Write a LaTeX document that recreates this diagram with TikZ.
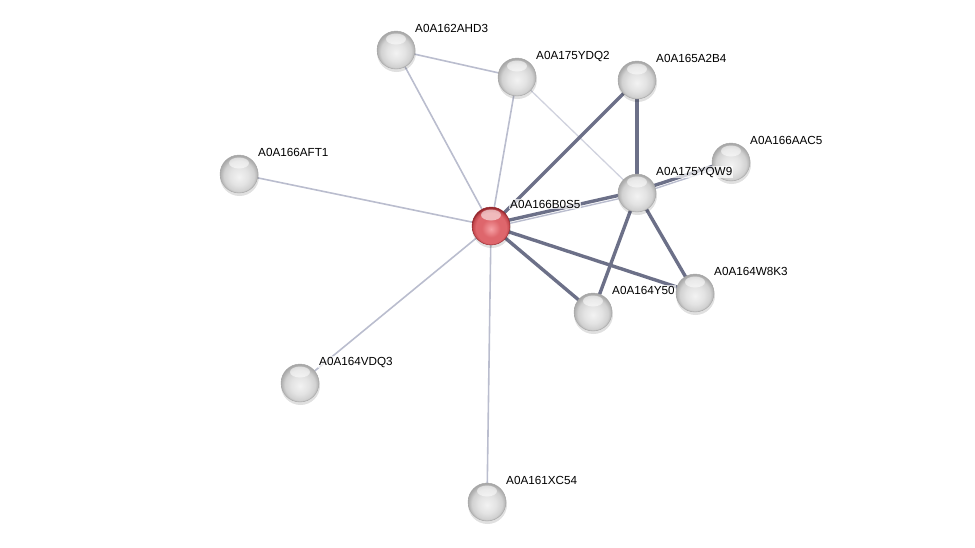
\documentclass[tikz,border=0pt]{standalone}
\usepackage{fontspec}
\setmainfont{Liberation Sans}
\usetikzlibrary{calc}
\pgfdeclareradialshading{greyball}{\pgfpoint{0bp}{-4bp}}{color(0bp)=(gray!10); color(12bp)=(gray!22); color(20bp)=(gray!36); color(24bp)=(gray!58); color(26bp)=(gray!68); color(50bp)=(gray!68)}
\definecolor{redA}{RGB}{246,160,164}
\definecolor{redB}{RGB}{222,102,108}
\definecolor{redC}{RGB}{196,72,78}
\definecolor{redD}{RGB}{150,40,46}
\pgfdeclareradialshading{redball}{\pgfpoint{0bp}{-4bp}}{color(0bp)=(redA); color(12bp)=(redB); color(20bp)=(redB); color(24bp)=(redC); color(26bp)=(redD); color(50bp)=(redD)}
\definecolor{thinedge}{RGB}{186,189,206}
\definecolor{paleedge}{RGB}{208,210,222}
\definecolor{darkedge}{RGB}{108,112,136}
\tikzset{
  ballbase/.style={circle, minimum size=38pt, inner sep=0pt,
    path picture={\fill[white,opacity=0.55] ([yshift=11pt]path picture bounding box.center) ellipse (10pt and 5.5pt);}},
  greynode/.style={ballbase, shading=greyball, draw=gray!70, line width=0.4pt},
  rednode/.style={ballbase, shading=redball, draw=redD, line width=0.4pt},
  shadowc/.style={fill=black, opacity=0.12},
  lbl/.style={anchor=base west, font=\fontsize{11.7}{13}\selectfont, fill=white, fill opacity=0.7, text opacity=1, inner sep=1pt},
  thin/.style={draw=thinedge, line width=1.6pt},
  pale/.style={draw=paleedge, line width=1.3pt},
  thick/.style={draw=darkedge, line width=3.4pt},
}
\newcommand{\ball}[5]{%
  \fill[shadowc] (#2+0.5,#3+2.5) circle (19.5pt);
  \node[#5] (#1) at (#2,#3) {};
  \node[lbl] (#1-l) at ($(#1)+(18,-18)$) {#4};
}
\begin{document}
\begin{tikzpicture}[x=1pt,y=-1pt]
\useasboundingbox (0,0) rectangle (975,547);
% coordinates of nodes
\coordinate (ahd3) at (396,50);
\coordinate (ydq2) at (517,77);
\coordinate (a2b4) at (637,80);
\coordinate (aac5) at (731,162);
\coordinate (yqw9) at (637,193);
\coordinate (aft1) at (239,174);
\coordinate (b0s5) at (491,226);
\coordinate (w8k3) at (695,293);
\coordinate (y50) at (593,312);
\coordinate (vdq3) at (300,383);
\coordinate (xc54) at (487,502);
% edges
\draw[thin] (ahd3) -- (ydq2);
\draw[thin] (ahd3) -- (b0s5);
\draw[thin] (ydq2) -- (b0s5);
\draw[pale] (ydq2) -- (yqw9);
\draw[thin] (aft1) -- (b0s5);
\draw[thin] (vdq3) -- (b0s5);
\draw[thin] (xc54) -- (b0s5);
\draw[thick] (b0s5) -- (a2b4);
\draw[thick] (a2b4) -- (yqw9);
\draw[thick, transform canvas={yshift=1.8pt}] (b0s5) -- (yqw9);
\draw[thin, line width=1.4pt, transform canvas={yshift=-1.6pt}] (b0s5) -- (yqw9);
\draw[thick, transform canvas={yshift=1.8pt}] (yqw9) -- (aac5);
\draw[thin, line width=1.4pt, transform canvas={yshift=-1.6pt}] (yqw9) -- (aac5);
\draw[thick] (b0s5) -- (y50);
\draw[thick] (b0s5) -- (w8k3);
\draw[thick] (yqw9) -- (y50);
\draw[thick] (yqw9) -- (w8k3);
% nodes
\ball{n-aft1}{239}{174}{A0A166AFT1}{greynode}
\ball{n-ahd3}{396}{50}{A0A162AHD3}{greynode}
\ball{n-ydq2}{517}{77}{A0A175YDQ2}{greynode}
\ball{n-a2b4}{637}{80}{A0A165A2B4}{greynode}
\ball{n-aac5}{731}{162}{A0A166AAC5}{greynode}
\ball{n-yqw9}{637}{193}{A0A175YQW9}{greynode}
\ball{n-b0s5}{491}{226}{A0A166B0S5}{rednode}
\ball{n-y50}{593}{312}{A0A164Y50}{greynode}
\ball{n-w8k3}{695}{293}{A0A164W8K3}{greynode}
\ball{n-vdq3}{300}{383}{A0A164VDQ3}{greynode}
\ball{n-xc54}{487}{502}{A0A161XC54}{greynode}
\end{tikzpicture}
\end{document}
